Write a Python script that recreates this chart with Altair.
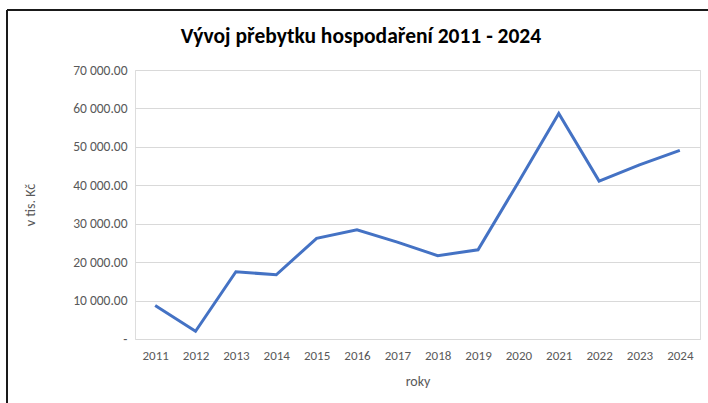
import altair as alt
import pandas as pd

years = [str(y) for y in range(2011, 2025)]
values = [8700, 2000, 17500, 16700, 26200, 28400, 25200, 21700, 23200, 40800, 58700, 41100, 45300, 49100]
title_text = ["Vývoj přebytku hospodaření 2011 - 2024"]

df = pd.DataFrame({"rok": years, "hodnota": values})
df_title = pd.DataFrame({"t": title_text})

FONT = "Calibri, Carlito, Lato, sans-serif"
GRAY = "#595959"

line = alt.Chart(df).mark_line(color="#4472C4", strokeWidth=3, strokeJoin="miter").encode(
    x=alt.X("rok:N", sort=years, title="roky",
            scale=alt.Scale(paddingInner=0, paddingOuter=0.5),
            axis=alt.Axis(labelAngle=0, domain=False, ticks=False, grid=False,
                          labelPadding=10, labelFontSize=13, labelColor=GRAY,
                          titleFontSize=14, titleFontWeight="normal", titleColor=GRAY,
                          titlePadding=12, labelFont=FONT, titleFont=FONT)),
    y=alt.Y("hodnota:Q", title="v tis. Kč",
            scale=alt.Scale(domain=[0, 70000]),
            axis=alt.Axis(values=[0, 10000, 20000, 30000, 40000, 50000, 60000, 70000],
                          labelExpr="datum.value == 0 ? '-' : replace(format(datum.value, ',.2f'), ',', ' ')",
                          domain=False, ticks=False, grid=True, gridColor="#D9D9D9", gridWidth=1,
                          labelPadding=8, labelFontSize=13.5, labelColor=GRAY,
                          titleFontSize=14, titleFontWeight="normal", titleColor=GRAY,
                          titleX=-98, titleAngle=-90, labelFont=FONT, titleFont=FONT)),
)

title = alt.Chart(df_title).mark_text(fontSize=21.5, fontWeight="bold", color="#000000", font=FONT,
                                      align="center", baseline="middle", clip=False).encode(
    text="t:N", x=alt.value(226), y=alt.value(-33))

frame_left = alt.Chart(df).mark_rule(color="#1a1a1a", strokeWidth=2, clip=False).encode(
    x=alt.value(-128), y=alt.value(-60), y2=alt.value(340))
frame_top = alt.Chart(df).mark_rule(color="#1a1a1a", strokeWidth=2, clip=False).encode(
    x=alt.value(-128), x2=alt.value(580), y=alt.value(-60))

chart = alt.layer(line, title, frame_left, frame_top).properties(
    width=565, height=269,
    autosize=alt.AutoSizeParams(type="none"),
    padding={"left": 135, "top": 70, "right": 8, "bottom": 64},
).configure_view(stroke=None).configure(background="white")

chart.save("out.html", embed_options={"renderer": "svg", "actions": False})
